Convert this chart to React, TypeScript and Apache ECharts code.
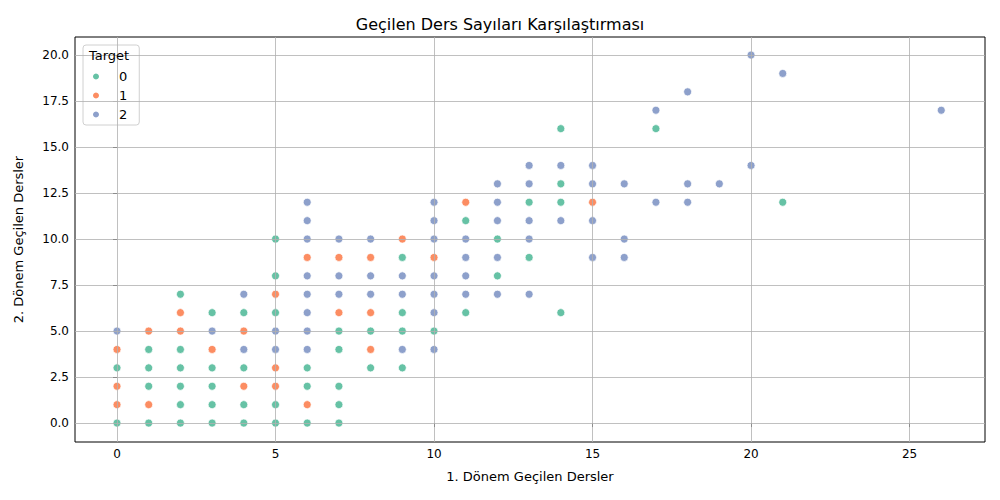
import { useEffect, useRef } from 'react';
import * as echarts from 'echarts';

// [x, y] per Target class
const target0 = [
  [0, 0], [0, 3], [1, 0], [1, 2], [1, 3], [1, 4], [2, 0], [2, 1], [2, 2], [2, 3], [2, 4], [2, 7],
  [3, 0], [3, 1], [3, 2], [3, 3], [3, 6], [4, 0], [4, 1], [4, 3], [4, 6], [5, 0], [5, 1], [5, 6],
  [5, 8], [5, 10], [6, 0], [6, 2], [6, 3], [7, 0], [7, 1], [7, 2], [7, 4], [7, 5], [8, 3], [8, 5],
  [9, 3], [9, 5], [9, 6], [9, 9], [10, 5], [11, 6], [11, 11], [12, 8], [12, 10], [13, 9], [13, 12],
  [14, 6], [14, 12], [14, 13], [14, 16], [17, 16], [21, 12],
];
const target1 = [
  [0, 1], [0, 2], [0, 4], [1, 1], [1, 5], [2, 5], [2, 6], [3, 4], [4, 2], [4, 5], [5, 2], [5, 3],
  [5, 7], [6, 1], [6, 9], [7, 6], [7, 9], [8, 4], [8, 6], [8, 9], [9, 10], [10, 9], [11, 12], [15, 12],
];
const target2 = [
  [0, 5], [3, 5], [4, 4], [4, 7], [5, 4], [5, 5], [6, 4], [6, 5], [6, 6], [6, 7], [6, 8], [6, 10],
  [6, 11], [6, 12], [7, 7], [7, 8], [7, 10], [8, 7], [8, 8], [8, 10], [9, 4], [9, 7], [9, 8],
  [10, 4], [10, 6], [10, 7], [10, 8], [10, 10], [10, 11], [10, 12], [11, 7], [11, 8], [11, 9],
  [11, 10], [12, 7], [12, 9], [12, 11], [12, 12], [12, 13], [13, 7], [13, 10], [13, 11], [13, 13],
  [13, 14], [14, 11], [14, 14], [15, 9], [15, 11], [15, 13], [15, 14], [16, 9], [16, 10], [16, 13],
  [17, 12], [17, 17], [18, 12], [18, 13], [18, 18], [19, 13], [20, 14], [20, 20], [21, 19], [26, 17],
];
const classNames = ['0', '1', '2'];
const colors = ['#66c2a5', '#fc8d62', '#8da0cb'];
const xTicks = [0, 5, 10, 15, 20, 25];
const yTicks = [0, 2.5, 5, 7.5, 10, 12.5, 15, 17.5, 20];

const font = 'DejaVu Sans';

export default function App() {
  const chartRef = useRef<HTMLDivElement>(null);

  useEffect(() => {
    if (!chartRef.current) return;
    const chart = echarts.init(chartRef.current, null, { renderer: 'svg' });

    const gridLine = { color: '#b0b0b0', width: 0.8, type: 'solid' as const };
    const scatter = (data: number[][], i: number) => ({
      type: 'scatter',
      name: classNames[i],
      data,
      symbolSize: 8,
      z: 3,
      itemStyle: { color: colors[i], borderColor: '#fff', borderWidth: 0.7, opacity: 1 },
    });

    chart.setOption({
      animation: false,
      title: {
        text: 'Geçilen Ders Sayıları Karşılaştırması',
        left: 'center',
        top: 11,
        textStyle: { fontFamily: font, fontSize: 16, fontWeight: 'normal', color: '#000' },
      },
      legend: {
        data: classNames.map((n) => ({ name: n, icon: 'circle' })),
        orient: 'vertical',
        left: 83,
        top: 45,
        padding: [25, 12, 4, 8],
        itemWidth: 8,
        itemHeight: 8,
        itemGap: 6,
        borderColor: '#d0d0d0',
        borderWidth: 1,
        borderRadius: 3,
        backgroundColor: 'rgba(255,255,255,0.8)',
        textStyle: { fontFamily: font, fontSize: 13, color: '#000', padding: [0, 0, 0, 14] },
      },
      graphic: [
        {
          type: 'text',
          left: 89,
          top: 49,
          z: 100,
          style: { text: 'Target', font: `13px "${font}"`, fill: '#000' },
        },
      ],
      grid: {
        left: 75,
        right: 15,
        top: 37,
        bottom: 58,
        show: true,
        borderColor: '#000',
        borderWidth: 1,
        containLabel: false,
      },
      xAxis: {
        type: 'value',
        min: -1.325,
        max: 27.38,
        name: '1. Dönem Geçilen Dersler',
        nameLocation: 'middle',
        nameGap: 28,
        nameTextStyle: { fontFamily: font, fontSize: 13, color: '#000' },
        axisLine: { show: false },
        axisTick: { show: true, customValues: xTicks, length: 4, lineStyle: { color: '#000' } },
        axisLabel: { customValues: xTicks, fontFamily: font, fontSize: 12, color: '#000', margin: 6 },
        splitLine: { show: false },
      },
      yAxis: {
        type: 'value',
        min: -1.03,
        max: 20.98,
        name: '2. Dönem Geçilen Dersler',
        nameLocation: 'middle',
        nameGap: 50,
        nameTextStyle: { fontFamily: font, fontSize: 13, color: '#000' },
        axisLine: { show: false },
        axisTick: { show: true, customValues: yTicks, length: 4, lineStyle: { color: '#000' } },
        axisLabel: {
          customValues: yTicks,
          fontFamily: font,
          fontSize: 12,
          color: '#000',
          margin: 6,
          formatter: (v: number) => v.toFixed(1),
        },
        splitLine: { show: false },
      },
      series: [
        {
          type: 'scatter',
          data: [],
          silent: true,
          z: 1,
          markLine: {
            silent: true,
            symbol: 'none',
            label: { show: false },
            lineStyle: gridLine,
            data: [
              ...xTicks.map((x) => ({ xAxis: x })),
              ...yTicks.map((y) => ({ yAxis: y })),
            ],
          },
        },
        scatter(target0, 0),
        scatter(target1, 1),
        scatter(target2, 2),
      ],
    });

    return () => chart.dispose();
  }, []);

  return <div ref={chartRef} style={{ width: 1000, height: 500, margin: -8 }} />;
}
